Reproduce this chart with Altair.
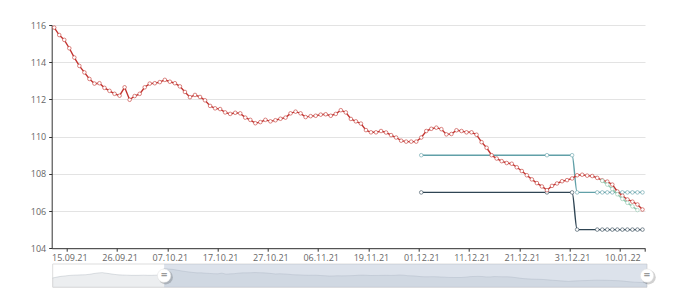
import json
import altair as alt
import pandas as pd

# ---------------- data ----------------
tick_labels = ["15.09.21", "26.09.21", "07.10.21", "17.10.21", "27.10.21", "06.11.21",
               "19.11.21", "01.12.21", "11.12.21", "21.12.21", "31.12.21", "10.01.22"]
first_label_index = 3
label_step = 10

price = [
    115.86, 115.46, 115.2, 114.75, 114.25, 113.8, 113.45, 113.1, 112.85, 112.87,
    112.62, 112.46, 112.3, 112.2, 112.65, 111.98, 112.18, 112.3, 112.65, 112.85,
    112.87, 112.93, 113.05, 112.95, 112.87, 112.7, 112.4, 112.12, 112.24, 112.13,
    111.95, 111.65, 111.52, 111.48, 111.3, 111.22, 111.28, 111.25, 111.02, 110.9,
    110.72, 110.78, 110.9, 110.82, 110.88, 110.96, 111.02, 111.25, 111.34, 111.25,
    111.05, 111.1, 111.12, 111.18, 111.2, 111.12, 111.22, 111.42, 111.3, 110.95,
    110.82, 110.7, 110.35, 110.23, 110.23, 110.3, 110.22, 110.08, 109.95, 109.78,
    109.73, 109.73, 109.73, 109.95, 110.3, 110.42, 110.48, 110.4, 110.12, 110.14,
    110.34, 110.3, 110.23, 110.23, 110.1, 109.7, 109.4, 109.0, 108.82, 108.68,
    108.58, 108.54, 108.35, 108.15, 107.92, 107.7, 107.5, 107.32, 107.12, 107.35,
    107.48, 107.6, 107.66, 107.75, 107.92, 107.95, 107.9, 107.88, 107.78, 107.65,
    107.58, 107.42, 107.05, 106.82, 106.62, 106.5, 106.35, 106.08,
]

# earlier part of the series (only visible in the zoom slider)
earlier = [
    109.4, 110.0, 110.5, 110.8, 111.1, 111.3, 111.4, 111.5, 111.6, 111.9,
    112.4, 112.8, 113.0, 112.6, 112.2, 111.8, 111.5, 111.4, 111.3, 111.2,
    111.2, 111.2, 111.3, 111.2, 111.2, 111.3, 111.4,
]

upper_index = [73, 98, 103, 104, 108, 109, 110, 111, 112, 113, 114, 115, 116, 117]
upper_values = [109, 109, 109, 107, 107, 107, 107, 107, 107, 107, 107, 107, 107, 107]
lower_index = [73, 98, 103, 104, 108, 109, 110, 111, 112, 113, 114, 115, 116, 117]
lower_values = [107, 107, 107, 105, 105, 105, 105, 105, 105, 105, 105, 105, 105, 105]
green_index = [109, 110, 111, 112, 113, 114, 115, 116]
green_values = [107.62, 107.42, 107.18, 106.9, 106.65, 106.44, 106.25, 106.05]

y_ticks = [104, 106, 108, 110, 112, 114, 116]

# ---------------- frames ----------------
n = len(price)
df_price = pd.DataFrame({"i": list(range(n)), "v": price})
df_upper = pd.DataFrame({"i": upper_index, "v": upper_values})
df_lower = pd.DataFrame({"i": lower_index, "v": lower_values})
df_green = pd.DataFrame({"i": green_index, "v": green_values})

full = earlier + price
df_full = pd.DataFrame({"j": list(range(len(full))), "v": full})
zoom_start = len(earlier)
zoom_end = len(full) - 1
df_handles = pd.DataFrame({"j": [zoom_start, zoom_end]})
df_frame = pd.DataFrame({"a": [0], "b": [zoom_end], "s": [zoom_start]})

# ---------------- layout ----------------
W, H = 593.3, 223.2
LEFT, TOP = 51.7, 25
FONT = "Open Sans"

xs = alt.Scale(domain=[-0.5, n - 0.5], nice=False, zero=False)
ys = alt.Scale(domain=[104, 116], nice=False, zero=False)

tick_vals = [first_label_index - 0.5 + label_step * k for k in range(len(tick_labels))] + [n - 0.5]
label_expr = (f"{json.dumps(tick_labels)}[round((datum.value - {first_label_index - 0.5}) / {label_step})] || ''")

x_axis = alt.Axis(values=tick_vals, labelExpr=label_expr, labelOffset=2.5, tickSize=3,
                  domainColor="#333", tickColor="#333", labelColor="#666",
                  labelFont=FONT, labelFontSize=9, labelPadding=2, grid=False,
                  labelFlush=False, labelOverlap=False, title=None)
y_axis = alt.Axis(values=y_ticks, tickSize=3, domainColor="#333", tickColor="#333",
                  labelColor="#666", labelFont=FONT, labelFontSize=9, labelPadding=3,
                  grid=True, gridColor="#e3e3e3", title=None)

X = alt.X("i:Q", scale=xs, axis=x_axis, title=None)
Y = alt.Y("v:Q", scale=ys, axis=y_axis, title=None)


def series(df, color, interp="linear"):
    line = alt.Chart(df).mark_line(color=color, strokeWidth=1.4, interpolate=interp).encode(x=X, y=Y)
    pts = alt.Chart(df).mark_point(shape="circle", filled=True, fill="white", stroke=color,
                                   strokeWidth=0.8, strokeOpacity=0.75, size=13, opacity=1).encode(x=X, y=Y)
    return [line, pts]


main = alt.layer(
    *series(df_upper, "#61a0a8", "monotone"),
    *series(df_lower, "#2f4554", "monotone"),
    *series(df_price, "#c23531"),
    *series(df_green, "#91c7ae"),
)

# ---------------- slider ----------------
lo, hi = min(full), max(full)
off = (hi - lo) * 0.3
SY0, SY1 = 239.0, 262.3  # slider top / bottom inside the chart group
sxs = alt.Scale(domain=[0, zoom_end], range=[1, W + 2], nice=False, zero=False)
sys_ = alt.Scale(domain=[lo - off, hi + off], range=[SY1, SY0], nice=False, zero=False)
SX = alt.X("j:Q", scale=sxs, axis=None)
SYe = alt.Y("v:Q", scale=sys_, axis=None)

bg = alt.Chart(df_frame).mark_rect(fill="white", stroke="#dddddd", strokeWidth=1).encode(
    x=alt.X("a:Q", scale=sxs, axis=None), x2="b:Q", y=alt.value(SY0), y2=alt.value(SY1))
shadow = alt.Chart(df_full).mark_area(fill="#2f4554", fillOpacity=0.09).encode(
    x=SX, y=SYe, y2=alt.Y2(datum=lo - off))
shadow_line = alt.Chart(df_full).mark_line(color="#2f4554", strokeWidth=0.5, opacity=0.3).encode(
    x=SX, y=SYe)
filler = alt.Chart(df_frame).mark_rect(fill="#a7b7cc", fillOpacity=0.4).encode(
    x=alt.X("s:Q", scale=sxs, axis=None), x2="b:Q", y=alt.value(SY0), y2=alt.value(SY1))
HY = (SY0 + SY1) / 2
h_shadow = alt.Chart(df_handles).mark_point(shape="circle", filled=True, color="black",
                                            opacity=0.18, size=210, xOffset=1.5, yOffset=1.5).encode(
    x=SX, y=alt.value(HY))
h_circle = alt.Chart(df_handles).mark_point(shape="circle", filled=True, fill="white",
                                            stroke="#e0e0e0", strokeWidth=0.5, opacity=1, size=180).encode(
    x=SX, y=alt.value(HY))
h_glyph = alt.Chart(df_handles).mark_text(text="=", color="#999999", fontSize=11, font=FONT,
                                          fontWeight="bold", align="center", baseline="middle", dy=-0.5).encode(
    x=SX, y=alt.value(HY))

slider = alt.layer(bg, shadow, shadow_line, filler, h_shadow, h_circle, h_glyph)

chart = alt.layer(main, slider).resolve_scale(x="independent", y="independent").properties(
    width=W, height=H,
    autosize=alt.AutoSizeParams(type="none"),
    padding={"left": LEFT, "top": TOP, "right": 680 - LEFT - W, "bottom": 299 - TOP - H},
).configure_view(stroke=None)

chart.save("out.html", embed_options={"renderer": "svg", "actions": False})
